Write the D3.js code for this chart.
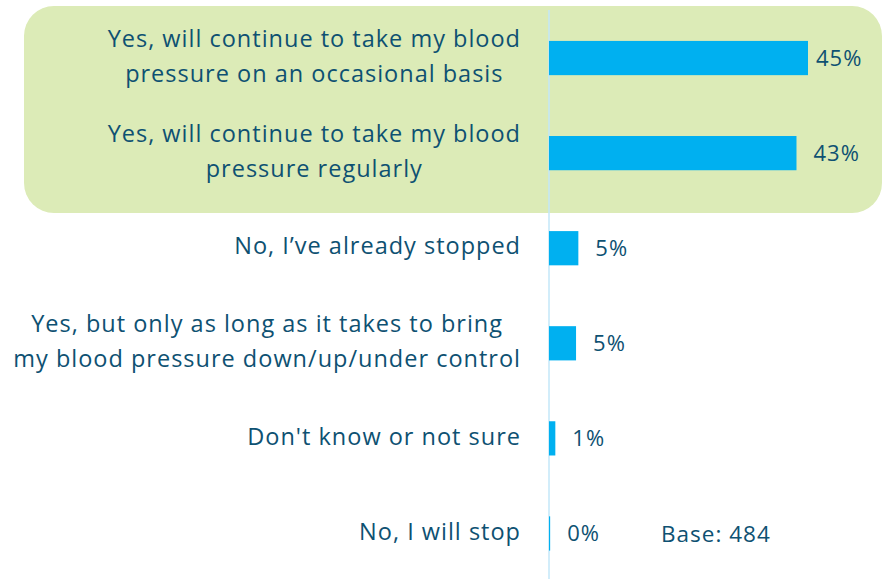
<!DOCTYPE html>
<html>
<head>
<meta charset="utf-8">
<script src="https://cdn.jsdelivr.net/npm/d3@7"></script>
<style>
  html, body { margin: 0; padding: 0; background: #fff; }
  text { font-family: "Open Sans", sans-serif; fill: #0e5172; letter-spacing: 1px; }
</style>
</head>
<body>
<svg id="ch" width="882" height="579"></svg>
<script>
// answers, top to bottom (each one a list of text lines)
var categories = [
    ["Yes, will continue to take my blood", "pressure on an occasional basis"],
    ["Yes, will continue to take my blood", "pressure regularly"],
    ["No, I\u2019ve already stopped"],
    ["Yes, but only as long as it takes to bring", "my blood pressure down/up/under control"],
    ["Don't know or not sure"],
    ["No, I will stop"]
];
var values = [45, 43, 5.1, 4.7, 1.1, 0.2];
var valueLabels = ["45%", "43%", "5%", "5%", "1%", "0%"];
var highlighted = [0, 1];
var baseNote = "Base: 484";

var svg = d3.select("#ch");
var W = 882, H = 579;

var ids = categories.map(function (d, i) { return i; });

var y = d3.scaleBand()
    .domain(ids)
    .range([10.5, 581])
    .paddingInner(0.64)
    .paddingOuter(0.32);

var x = d3.scaleLinear()
    .domain([0, 45])
    .range([549, 808]);

// green box behind the first two answers
var bot0 = y(highlighted[highlighted.length - 1]) + y.bandwidth() + y.step() * 0.45;
svg.append("rect")
    .attr("x", 24)
    .attr("y", 6)
    .attr("width", W - 24)
    .attr("height", bot0 - 6)
    .attr("rx", 30)
    .attr("fill", "#dcebb7");

// vertical baseline
svg.append("line")
    .attr("x1", x(0)).attr("x2", x(0))
    .attr("y1", 10).attr("y2", H)
    .attr("stroke", "#c3e7f8")
    .attr("stroke-width", 1.5);

svg.selectAll(".bar")
    .data(values)
    .enter()
    .append("rect")
    .attr("class", "bar")
    .attr("x", x(0))
    .attr("y", function (d, i) { return y(i); })
    .attr("width", function (d) { return x(d) - x(0); })
    .attr("height", y.bandwidth())
    .attr("fill", "#00b0f0");

// value labels, pulled in a little when they would run off the right edge
svg.selectAll(".val")
    .data(values)
    .enter()
    .append("text")
    .attr("class", "val")
    .attr("x", function (d) { return Math.min(x(d) + 17, W - 66); })
    .attr("y", function (d, i) { return y(i) + y.bandwidth() / 2; })
    .attr("dy", "0.35em")
    .style("font-size", "22px")
    .text(function (d, i) { return valueLabels[i]; });

// category labels: block is right aligned, lines centred inside it
var lineH = 35, labelRight = 521;
var labels = svg.selectAll(".cat")
    .data(categories)
    .enter()
    .append("text")
    .attr("class", "cat")
    .attr("text-anchor", "middle")
    .style("font-size", "23.5px");

labels.selectAll("tspan")
    .data(function (d, i) {
        return d.map(function (t, k) { return {t: t, k: k, n: d.length, i: i}; });
    })
    .enter()
    .append("tspan")
    .attr("y", function (d) {
        return y(d.i) + y.bandwidth() / 2 + (d.k - (d.n - 1) / 2) * lineH - 2;
    })
    .attr("dy", "0.35em")
    .text(function (d) { return d.t; });

labels.each(function () {
    var spans = d3.select(this).selectAll("tspan");
    var wmax = d3.max(spans.nodes(), function (n) { return n.getComputedTextLength(); });
    spans.attr("x", labelRight - wmax / 2);
});

svg.append("text")
    .attr("x", 661)
    .attr("y", y(5) + y.bandwidth() / 2 + 1)
    .attr("dy", "0.35em")
    .style("font-size", "22.5px")
    .text(baseNote);
</script>
</body>
</html>
